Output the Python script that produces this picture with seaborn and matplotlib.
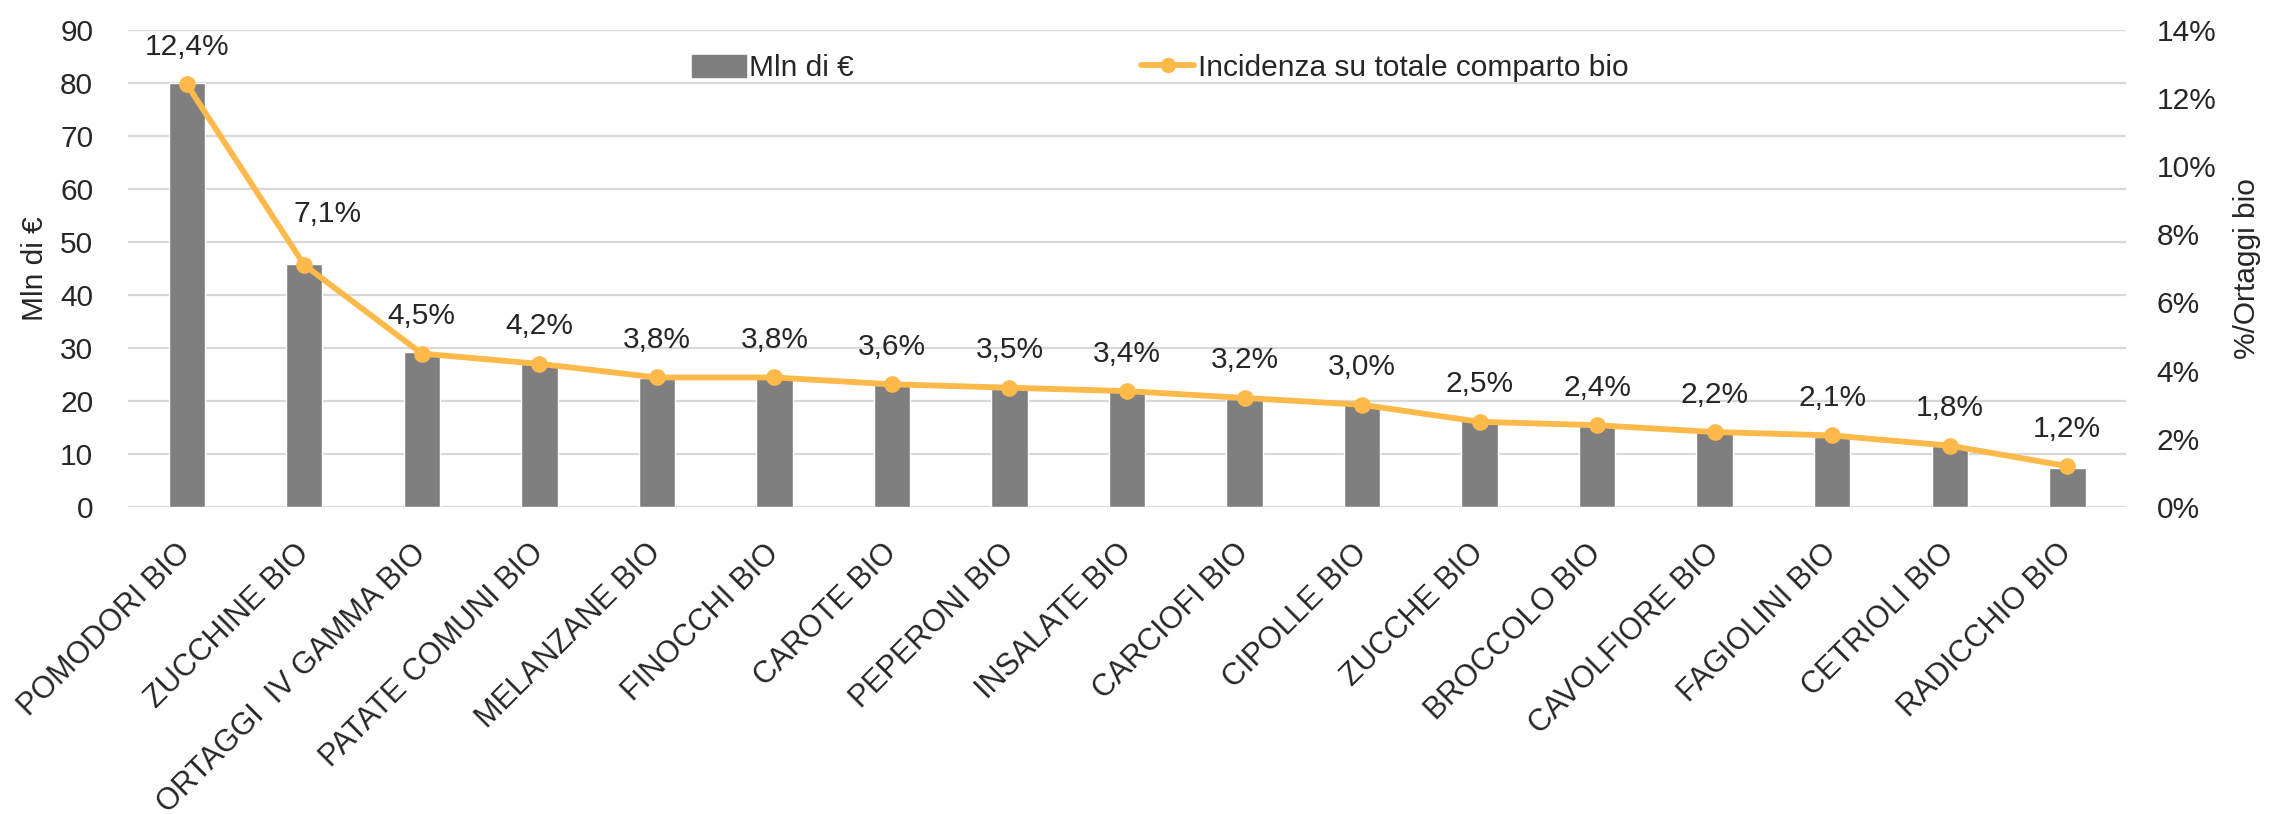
import numpy as np
import pandas as pd
import seaborn as sns
import matplotlib.pyplot as plt
from matplotlib.ticker import PercentFormatter
from matplotlib.lines import Line2D
from matplotlib.patches import Patch

# Data
categories = ["POMODORI BIO", "ZUCCHINE BIO", "ORTAGGI  IV GAMMA BIO", "PATATE COMUNI BIO",
              "MELANZANE BIO", "FINOCCHI BIO", "CAROTE BIO", "PEPERONI BIO", "INSALATE BIO",
              "CARCIOFI BIO", "CIPOLLE BIO", "ZUCCHE BIO", "BROCCOLO BIO", "CAVOLFIORE BIO",
              "FAGIOLINI BIO", "CETRIOLI BIO", "RADICCHIO BIO"]
mln_euro = [80.0, 45.8, 29.3, 27.0, 24.4, 24.3, 23.0, 22.2, 22.0, 20.4, 19.4, 16.3, 15.2,
            14.2, 13.3, 11.6, 7.4]
incidenza = [12.4, 7.1, 4.5, 4.2, 3.8, 3.8, 3.6, 3.5, 3.4, 3.2, 3.0, 2.5, 2.4, 2.2, 2.1, 1.8, 1.2]
left_ticks = list(range(0, 100, 10))
right_ticks = list(range(0, 16, 2))

bar_color = "#7F7F7F"
line_color = "#FDBA4B"
grid_color = "#D9D9D9"
fs = 21.5

sns.set_theme(style="white")
plt.rcParams["font.family"] = ["Liberation Sans", "DejaVu Sans"]

df = pd.DataFrame({"cat": categories, "val": mln_euro, "pct": incidenza})

fig, ax = plt.subplots(figsize=(22.69, 8.14), dpi=100)
fig.subplots_adjust(left=0.0564, right=0.937, top=0.9635, bottom=0.3771)

# Bars
sns.barplot(data=df, x="cat", y="val", color=bar_color, saturation=1, width=0.31, ax=ax)
ax.set_ylim(0, 90)
ax.set_yticks(left_ticks)
ax.set_axisbelow(True)
ax.yaxis.grid(True, color=grid_color, linewidth=1.6)
for s in ax.spines.values():
    s.set_visible(False)
ax.set_xlabel("")
ax.set_ylabel("Mln di €", fontsize=fs, labelpad=8)
ax.tick_params(axis="y", length=0, labelsize=fs, pad=25)
ax.tick_params(axis="x", length=0, labelsize=22, pad=30)
plt.setp(ax.get_xticklabels(), rotation=45, ha="right", va="center", rotation_mode="anchor")

# Line on secondary axis
ax2 = ax.twinx()
xpos = np.arange(len(categories))
sns.lineplot(x=xpos, y=df["pct"], color=line_color, linewidth=4.2, marker="o",
             markersize=12, markeredgewidth=0, sort=False, ax=ax2)
ax2.set_ylim(0, 14)
ax2.set_yticks(right_ticks)
ax2.yaxis.set_major_formatter(PercentFormatter(decimals=0))
ax2.set_ylabel("%/Ortaggi bio", fontsize=fs, labelpad=12)
ax2.tick_params(axis="y", length=0, labelsize=fs, pad=22)
for s in ax2.spines.values():
    s.set_visible(False)
ax.set_xlim(-0.5, len(categories) - 0.5)
ax.axhline(0, color=grid_color, linewidth=2, zorder=0)

# Data labels
offsets = {1: (17, 37)}
for i, p in enumerate(incidenza):
    dx, dy = offsets.get(i, (0, 27))
    ax2.annotate(f"{p:.1f}%".replace(".", ","), (i, p), xytext=(dx, dy),
                 textcoords="offset points", ha="center", va="center", fontsize=fs)

# Legend
handles = [Patch(color=bar_color, label="Mln di €"),
           Line2D([0], [0], color=line_color, linewidth=4.2, marker="o", markersize=10,
                  label="Incidenza su totale comparto bio")]
fig.legend(handles=handles, loc="center left", bbox_to_anchor=(0.305, 0.916), ncol=2,
           frameon=False, fontsize=fs, handlelength=1.8, handleheight=0.8,
           handletextpad=0.12, columnspacing=9.6, borderpad=0, borderaxespad=0)

fig.savefig("out.png", dpi=100)
